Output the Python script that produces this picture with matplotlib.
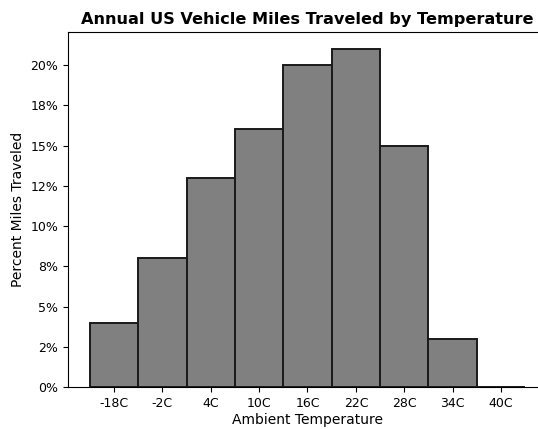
import matplotlib
matplotlib.use('Agg')
import matplotlib.pyplot as plt
from matplotlib.ticker import MultipleLocator, FuncFormatter

temps = ['-18C', '-2C', '4C', '10C', '16C', '22C', '28C', '34C', '40C']
percent_miles = [4.0, 8.0, 13.0, 16.0, 20.0, 21.0, 15.0, 3.0, 0.0]

fig = plt.figure(figsize=(5.38, 4.29), dpi=100)
# the original chart is cropped on the right, so the axes run past the edge
ax = fig.add_axes([0.1264, 0.0979, 0.8903, 0.8275])

ax.bar(range(len(temps)), percent_miles, width=1.0, color='#808080',
       edgecolor='#1a1a1a', linewidth=1.4)
ax.set_xticks(range(len(temps)))
ax.set_xticklabels(temps, fontsize=9)
ax.yaxis.set_major_locator(MultipleLocator(2.5))
ax.yaxis.set_major_formatter(FuncFormatter(lambda v, p: '{:.0f}%'.format(v)))
ax.tick_params(axis='y', labelsize=9)
ax.spines['right'].set_visible(False)
ax.set_xlabel('Ambient Temperature', fontsize=10, labelpad=2)
ax.set_ylabel('Percent Miles Traveled', fontsize=10, labelpad=4)
ax.set_title('Annual US Vehicle Miles Traveled by Temperature',
             fontsize=11.6, fontweight='bold')

fig.savefig('out.png', dpi=100)
